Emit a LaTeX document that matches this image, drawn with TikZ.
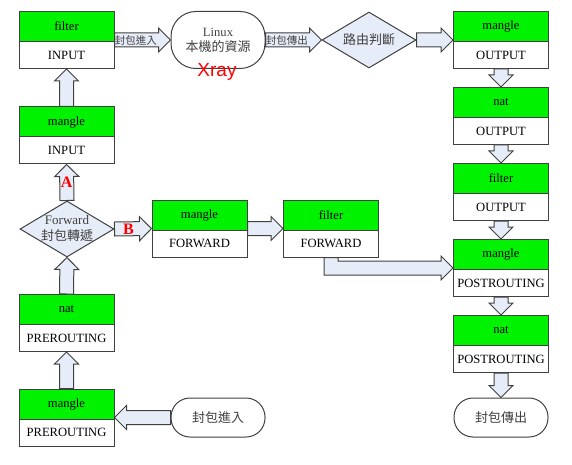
\documentclass[tikz,border=0pt]{standalone}
\usepackage{fontspec}
\setmainfont{Liberation Serif}
\newfontfamily\cjk{Noto Sans CJK TC}
\newfontfamily\arialf{Liberation Sans}
\usetikzlibrary{shapes.geometric,calc}
\definecolor{grn}{HTML}{00F200}
\definecolor{afill}{HTML}{E6EDF8}
\definecolor{edge}{HTML}{404040}
\definecolor{txt}{HTML}{404040}
\tikzset{
 tbl/.style={draw=edge, line width=1pt, minimum width=95pt, minimum height=57pt, inner sep=0pt},
 tbltop/.style={draw=edge, fill=grn, line width=1pt, minimum width=95pt, minimum height=30pt, inner sep=0pt, font=\fontsize{12.6}{14}\selectfont},
 tblbot/.style={draw=edge, line width=1pt, minimum width=95pt, minimum height=27pt, inner sep=0pt, font=\fontsize{12.6}{14}\selectfont},
 term/.style={draw=edge, fill=white, line width=1pt, rounded corners=19pt, minimum width=94pt, minimum height=39pt, inner sep=0pt, text=txt, font=\cjk\fontsize{13}{15}\selectfont},
 dia/.style={diamond, draw=edge, fill=afill, line width=1pt, minimum width=94pt, minimum height=56pt, inner sep=0pt},
 blk/.style={draw=edge, fill=afill, line width=1pt, line join=miter},
 alab/.style={text=txt, font=\cjk\fontsize{10.5}{12}\selectfont, inner sep=0pt},
 redlab/.style={text=red, font=\bfseries\fontsize{16}{18}\selectfont, inner sep=0pt}
}
\newcommand\tbox[5]{%
 \node[tbl] (#1) at (#2,#3) {};
 \node[tbltop, anchor=north] (#1t) at (#1.north) {#4};
 \node[tblbot, anchor=south] (#1b) at (#1.south) {#5};}
\newcommand\barrow[2]{%
 \draw[blk] let \p1=(#1), \p2=(#2), \n1={atan2(\y2-\y1,\x2-\x1)}, \n2={veclen(\x2-\x1,\y2-\y1)} in
  [shift={(\p1)}, rotate=\n1] (0pt,-7pt) -- ({\n2*1pt-12pt},-7pt) -- ({\n2*1pt-12pt},-12pt) -- ({\n2*1pt},0pt) -- ({\n2*1pt-12pt},12pt) -- ({\n2*1pt-12pt},7pt) -- (0pt,7pt) -- cycle;}
\begin{document}
\begin{tikzpicture}[x=1pt,y=-1pt]
\useasboundingbox (0,0) rectangle (572,465);
% left column
\tbox{fi}{66.5}{40}{filter}{INPUT}
\tbox{mi}{66.5}{135.5}{mangle}{INPUT}
\node[dia] (fw) at (67,229) {};
\node[text=txt, align=center, inner sep=0pt, font=\fontsize{13}{16}\selectfont] (fwl) at (fw) {Forward\\{\cjk\fontsize{13}{16}\selectfont 封包轉遞}};
\tbox{np}{66.5}{323}{nat}{PREROUTING}
\tbox{mp}{66.5}{417.5}{mangle}{PREROUTING}
\node[term] (in) at (218,417.5) {封包進入};
% top row
\node[term, minimum height=57pt, rounded corners=25pt, align=center, font=\fontsize{12.6}{15}\selectfont] (lx) at (218,40) {Linux\\{\cjk\fontsize{13}{15}\selectfont 本機的資源}};
\node[dia] (rd) at (369,40) {};
\node[text=txt, inner sep=0pt, font=\cjk\fontsize{13}{15}\selectfont] (rdl) at (rd) {路由判斷};
% forward row
\tbox{mf}{199.5}{228.5}{mangle}{FORWARD}
\tbox{ff}{331}{228.5}{filter}{FORWARD}
% right column
\tbox{mo}{501}{40}{mangle}{OUTPUT}
\tbox{no}{501}{116}{nat}{OUTPUT}
\tbox{fo}{501}{192}{filter}{OUTPUT}
\tbox{mq}{501}{268}{mangle}{POSTROUTING}
\tbox{nq}{501}{344}{nat}{POSTROUTING}
\node[term] (out) at (501,417.5) {封包傳出};
% arrows
\barrow{fi.east}{lx.west}
\barrow{lx.east}{rd.west}
\barrow{rd.east}{mo.west}
\barrow{mi.north}{fi.south}
\barrow{fw.north}{mi.south}
\barrow{np.north}{fw.south}
\barrow{mp.north}{np.south}
\barrow{in.west}{mp.east}
\barrow{fw.east}{mf.west}
\barrow{mf.east}{ff.west}
\barrow{mo.south}{no.north}
\barrow{no.south}{fo.north}
\barrow{fo.south}{mq.north}
\barrow{mq.south}{nq.north}
\barrow{nq.south}{out.north}
\draw[blk] let \p1=(ff.south), \p2=(mq.west) in
  (\x1-7pt,\y1) -- (\x1-7pt,\y2-7pt) -- (\x2-12pt,\y2-7pt) -- (\x2-12pt,\y2-12pt) -- (\x2,\y2)
  -- (\x2-12pt,\y2+12pt) -- (\x2-12pt,\y2+7pt) -- (\x1+7pt,\y2+7pt) -- (\x1+7pt,\y1) -- cycle;
% arrow labels
\node[alab] (l1) at ($(fi.east)!0.38!(lx.west)$) {封包進入};
\node[alab] (l2) at ($(lx.east)!0.38!(rd.west)$) {封包傳出};
\node[redlab] (la) at ($(fw.north)!0.5!(mi.south)$) {A};
\node[redlab] (lb) at ($(fw.east)!0.38!(mf.west)$) {B};
\node[text=red, inner sep=0pt, anchor=base, font=\arialf\fontsize{19}{21}\selectfont] (xr) at (217,77) {Xray};
\end{tikzpicture}
\end{document}
